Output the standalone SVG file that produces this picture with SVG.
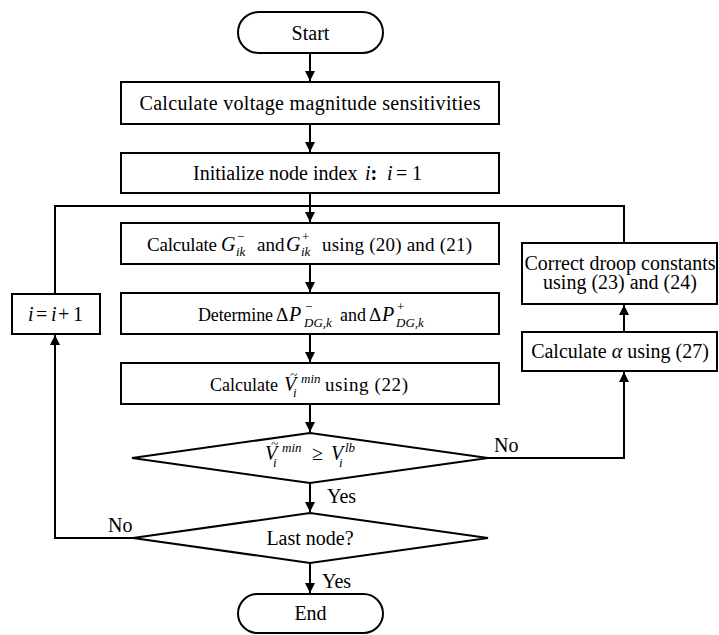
<svg xmlns="http://www.w3.org/2000/svg" width="719" height="635" viewBox="0 0 719 635">
<style>
  .s{fill:#fff;stroke:#000;stroke-width:2}
  .l{fill:none;stroke:#000;stroke-width:2}
  text{font-family:"Liberation Serif","Times New Roman",serif;font-size:20px;fill:#000}
  .m{text-anchor:middle}
  .it{font-style:italic}
  .sm{font-size:13px}
  .f19{font-size:19px}
  .f18{font-size:18px}
  .tl{font-size:13px;font-style:italic}
</style>
<defs>
  <marker id="ah" markerWidth="10" markerHeight="10" refX="10" refY="5" orient="auto" markerUnits="userSpaceOnUse">
    <path d="M0,0 L10,5 L0,10 z" fill="#000"/>
  </marker>
</defs>
<rect width="719" height="635" fill="#fff"/>
<g id="connectors">
  <line class="l" x1="310" y1="53" x2="310" y2="81" marker-end="url(#ah)"/>
  <line class="l" x1="310" y1="124" x2="310" y2="152" marker-end="url(#ah)"/>
  <line class="l" x1="310" y1="193" x2="310" y2="222" marker-end="url(#ah)"/>
  <line class="l" x1="310" y1="264" x2="310" y2="292" marker-end="url(#ah)"/>
  <line class="l" x1="310" y1="334" x2="310" y2="362" marker-end="url(#ah)"/>
  <line class="l" x1="310" y1="404" x2="310" y2="432" marker-end="url(#ah)"/>
  <line class="l" x1="310" y1="483" x2="310" y2="512" marker-end="url(#ah)"/>
  <line class="l" x1="310" y1="563" x2="310" y2="593" marker-end="url(#ah)"/>
  <polyline class="l" points="55,294 55,206 624,206 624,243"/>
  <polyline class="l" points="488,458 624,458 624,372" marker-end="url(#ah)"/>
  <line class="l" x1="624" y1="332" x2="624" y2="305" marker-end="url(#ah)"/>
  <polyline class="l" points="133,538 55,538 55,335" marker-end="url(#ah)"/>
  <text x="327" y="503">Yes</text>
  <text x="322" y="588">Yes</text>
  <text x="494" y="452">No</text>
  <text x="108" y="532">No</text>
</g>
<g id="start">
  <rect class="s" x="238" y="12" width="145" height="41" rx="20.5"/>
  <text class="m" x="310.5" y="40">Start</text>
</g>
<g id="sens">
  <rect class="s" x="121" y="82" width="378" height="42"/>
  <text class="m" x="310" y="110" textLength="341">Calculate voltage magnitude sensitivities</text>
</g>
<g id="init">
  <rect class="s" x="121" y="153" width="378" height="40"/>
  <text x="193" y="180">Initialize node index</text>
  <text class="it" x="365" y="180">i<tspan font-style="normal" font-weight="bold">:</tspan></text>
  <text class="it" x="387" y="180">i</text>
  <text x="396" y="180">=</text>
  <text x="412" y="180">1</text>
</g>
<g id="calcG">
  <rect class="s" x="121" y="223" width="378" height="41"/>
  <text class="f19" x="147" y="251" textLength="70">Calculate</text>
  <text class="it" x="221" y="251">G</text>
  <text class="sm" x="237" y="241">−</text>
  <text class="sm it" x="236" y="256">ik</text>
  <text class="f19" x="257" y="251">and</text>
  <text class="it" x="286" y="251">G</text>
  <text class="sm" x="302" y="241">+</text>
  <text class="sm it" x="301" y="256">ik</text>
  <text class="f19" x="322" y="251" textLength="150">using (20) and (21)</text>
</g>
<g id="detP">
  <rect class="s" x="121" y="293" width="378" height="41"/>
  <text class="f18" x="198" y="321" textLength="75">Determine</text>
  <text class="f19" x="276" y="321">Δ</text>
  <text class="it" x="289" y="321">P</text>
  <text class="sm" x="305" y="311">−</text>
  <text class="sm it" x="304" y="327">DG<tspan font-style="normal">,</tspan>k</text>
  <text class="f18" x="340" y="321">and</text>
  <text class="f19" x="369" y="321">Δ</text>
  <text class="it" x="382" y="321">P</text>
  <text class="sm" x="397" y="311">+</text>
  <text class="sm it" x="396" y="327">DG<tspan font-style="normal">,</tspan>k</text>
</g>
<g id="calcV">
  <rect class="s" x="121" y="363" width="378" height="41"/>
  <text class="f18" x="210" y="391" textLength="68">Calculate</text>
  <text class="it" x="284" y="391">V</text>
  <text class="tl" x="290" y="379">~</text>
  <text class="sm it" x="293" y="397">i</text>
  <text class="sm it" x="301" y="383">min</text>
  <text class="f19" x="325" y="391" textLength="83">using (22)</text>
</g>
<g id="check">
  <polygon class="s" points="310,433 488,458 310,483 132,458"/>
  <text class="it" x="265" y="460">V</text>
  <text class="tl" x="271" y="448">~</text>
  <text class="sm it" x="273" y="467">i</text>
  <text class="sm it" x="282" y="452">min</text>
  <text x="312" y="460">≥</text>
  <text class="it" x="331" y="460">V</text>
  <text class="sm it" x="339" y="467">i</text>
  <text class="sm it" x="345" y="452">lb</text>
</g>
<g id="last">
  <polygon class="s" points="310,513 488,538 310,563 133,538"/>
  <text class="m" x="310" y="545">Last node?</text>
</g>
<g id="end">
  <rect class="s" x="238" y="594" width="145" height="39" rx="19.5"/>
  <text class="m" x="310.5" y="620">End</text>
</g>
<g id="incr">
  <rect class="s" x="12" y="294" width="88" height="40"/>
  <text class="it" x="28" y="321">i</text>
  <text x="36" y="321">=</text>
  <text class="it" x="51" y="321">i</text>
  <text x="58" y="321">+</text>
  <text x="73" y="321">1</text>
</g>
<g id="alpha">
  <rect class="s" x="522" y="332" width="195" height="39"/>
  <text class="m" x="620" y="358">Calculate <tspan class="it">α</tspan> using (27)</text>
</g>
<g id="droop">
  <rect class="s" x="522" y="243" width="195" height="61"/>
  <text class="m" x="620" y="270">Correct droop constants</text>
  <text class="m" x="620" y="289">using (23) and (24)</text>
</g>
</svg>
